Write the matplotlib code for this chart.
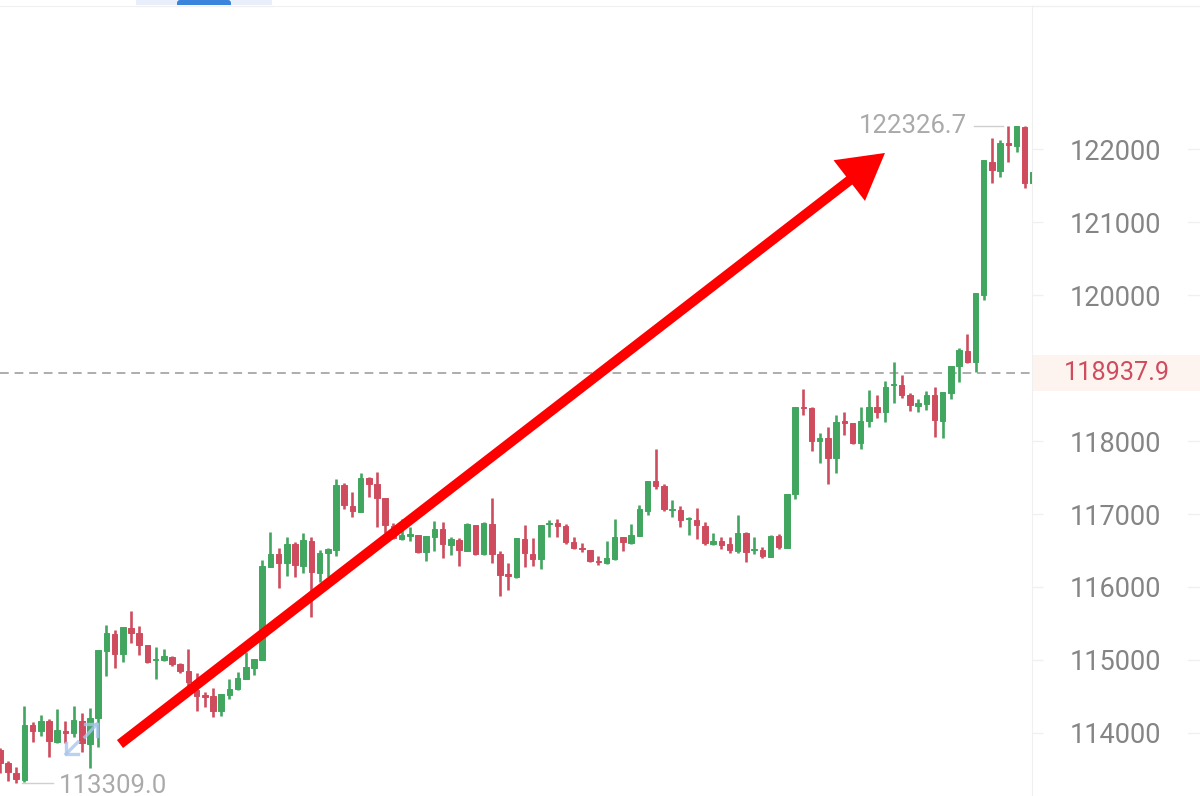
import matplotlib
matplotlib.use("Agg")
from matplotlib import pyplot as plt
from matplotlib.patches import Rectangle, FancyBboxPatch

plt.rcParams['font.family'] = ['Roboto', 'DejaVu Sans']

################################
### Values ###
################################

opens = [113763,113585,113447,113352,114106,114024,114161,113873,114024,113996,
         114161,113845,114202,115121,115354,115080,115436,115368,115203,114998,
         114998,115039,114943,114847,114586,114518,114504,114298,114518,114600,
         114737,114888,114998,116273,116452,116328,116589,116287,116630,116191,
         116465,116507,117398,117110,117028,117494,117412,117220,116836,116658,
         116699,116712,116479,116685,116795,116575,116644,116493,116850,116452,
         116863,116452,116178,116136,116658,116452,116383,116863,116877,116836,
         116616,116534,116507,116356,116328,116383,116685,116603,116699,117042,
         117453,117384,117055,117055,116932,116918,116836,116589,116630,116589,
         116493,116740,116507,116507,116411,116699,116534,117275,118468,118455,
         118002,118043,117769,118276,118249,117974,118276,118468,118400,118770,
         118770,118633,118482,118509,118633,118276,118660,119031,119236,119085,
         120004,121829,121705,122090,122048,122309,121541]

closes = [113585,113461,113365,114106,114024,114161,113887,114038,113996,114175,
          113859,114202,115135,115368,115080,115450,115368,115203,114970,115011,
          115052,114943,114847,114696,114504,114490,114298,114531,114600,114751,
          114902,115011,116287,116452,116328,116589,116301,116644,116205,116465,
          116520,117398,117124,117042,117494,117412,117220,116850,116671,116712,
          116726,116479,116699,116795,116589,116658,116507,116863,116452,116877,
          116452,116164,116150,116671,116465,116383,116850,116877,116836,116616,
          116534,116520,116356,116342,116397,116685,116616,116712,117069,117453,
          117384,117069,117069,116918,116945,116850,116603,116630,116575,116507,
          116740,116479,116520,116424,116699,116548,117275,118468,118455,118002,
          118043,117769,118262,118249,117974,118276,118468,118400,118743,118784,
          118633,118496,118523,118633,118290,118674,119031,119250,119085,120032,
          121856,121719,122090,122062,122323,121541,121692]

highs = [113790,113612,113530,114367,114147,114243,114188,114326,114161,114367,
         114270,114339,115135,115478,115409,115450,115670,115464,115203,115176,
         115149,115052,114957,115149,114820,114559,114614,114531,114737,114833,
         115107,115011,116369,116754,116534,116685,116616,116740,116685,116507,
         116534,117480,117425,117302,117563,117508,117576,117220,116877,116932,
         116822,116712,116699,116904,116891,116685,116671,116877,116850,116891,
         117220,116493,116328,116671,116850,116671,116850,116918,116932,116863,
         116685,116603,116507,116424,116630,116932,116685,116863,117124,117453,
         117892,117412,117192,117110,116959,117083,116891,116740,116685,116685,
         116987,116754,116685,116548,116712,116726,117275,118468,118715,118468,
         118112,118194,118358,118400,118249,118468,118701,118633,118825,119085,
         118907,118660,118578,118688,118743,118674,119031,119277,119469,120032,
         121856,122158,122131,122326.7,122326.7,122323,121692]

lows = [113447,113338,113309,113324,113873,113955,113667,113859,113859,113941,
        113735,113516,113804,114778,114888,114970,115231,115066,114957,114737,
        114984,114915,114820,114627,114298,114353,114216,114229,114463,114586,
        114737,114792,114998,116273,115985,116150,116136,116191,115587,116068,
        116136,116424,117069,116959,117028,117234,116822,116740,116658,116644,
        116630,116465,116356,116493,116397,116438,116287,116493,116438,116438,
        116328,115876,115958,116122,116273,116287,116246,116685,116685,116589,
        116520,116479,116342,116301,116315,116369,116493,116589,116699,116987,
        117343,117042,116959,116822,116712,116658,116575,116575,116520,116465,
        116465,116342,116452,116397,116411,116520,116534,117206,118358,117865,
        117700,117412,117563,118084,117961,117892,118194,118317,118262,118523,
        118592,118413,118400,118427,118057,118043,118578,118811,119072,118948,
        119936,121541,121623,121829,121966,121472,121541]

y_ticks = [114000, 115000, 116000, 117000, 118000, 120000, 121000, 122000]
y_labels = [str(t) for t in y_ticks]

last_price = 118937.9
max_price = 122326.7
min_price = 113309.0

green = '#41a660'
red = '#cf4c5e'
line_gray = '#f0f0f0'

fig = plt.figure(figsize=(12, 7.96), dpi=100)
ax = fig.add_axes([0, 0, 1032 / 1200, 790 / 796])
ax.set_xlim(0.024, 125.88)
ax.set_ylim(113132, 123968)

##################
### Candlesticks ###
##################

for i in range(len(opens)):
    c = green if closes[i] >= opens[i] else red
    ax.vlines(i, lows[i], highs[i], colors=c, linewidth=1.9, zorder=3)
    ax.bar(i, abs(closes[i] - opens[i]), bottom=min(opens[i], closes[i]),
           width=0.66, color=c, edgecolor=c, linewidth=0.7, zorder=3)

ax.axhline(last_price, color='#adadad', linewidth=1.4, linestyle=(0, (4.5, 3)), zorder=2)

# high / low markers
ax.plot([118.8, 122.3], [max_price, max_price], color='#cfcfcf', linewidth=1, zorder=2)
ax.text(118.0, max_price, '122326.7', color='#aaaaaa', fontsize=18.5,
        ha='right', va='center')
ax.plot([2.7, 6.5], [min_price, min_price], color='#cfcfcf', linewidth=1, zorder=2)
ax.text(7.2, min_price - 40, '113309.0', color='#aaaaaa', fontsize=18.5,
        ha='left', va='center', clip_on=False)

# y axis on the right side
ax.yaxis.tick_right()
ax.set_yticks(y_ticks)
ax.set_yticklabels(y_labels, ha='center', va='center_baseline', color='#858585', fontsize=19.5)
ax.tick_params(axis='y', length=8, width=1, color=line_gray, pad=52)
ax.set_xticks([])
for s in ['left', 'bottom']:
    ax.spines[s].set_visible(False)
ax.spines['right'].set_color(line_gray)
ax.spines['top'].set_color(line_gray)
for t in y_ticks:
    ax.plot([1188 / 1032, 1200 / 1032], [t, t], color=line_gray, linewidth=1,
            transform=ax.get_yaxis_transform(), clip_on=False)

# current price tag
ax.add_patch(Rectangle((1033 / 1032, last_price - 245), 167 / 1032, 490, facecolor='#fdf4f0',
                       edgecolor='none', transform=ax.get_yaxis_transform(), clip_on=False))
ax.text(1117 / 1032, last_price, '118937.9', color='#cf4c5e', fontsize=18.2,
        ha='center', va='center', transform=ax.get_yaxis_transform(), clip_on=False)

# red arrow drawn over the chart
ax.annotate('', xy=(107.95, 121952), xytext=(14.66, 113845), zorder=6,
            arrowprops=dict(facecolor='#fe0000', edgecolor='none', width=7.2,
                            headwidth=37, headlength=32.5, shrink=0))

###########################
### Page bits around it ###
###########################

over = fig.add_axes([0, 0, 1, 1], facecolor='none')
over.set_xlim(0, 1200)
over.set_ylim(796, 0)
over.axis('off')

over.plot([1032, 1200], [5.5, 5.5], color=line_gray, linewidth=1)
over.add_patch(Rectangle((136, 0), 136, 5, facecolor='#e8effb', edgecolor='none'))
over.add_patch(FancyBboxPatch((177, 0), 54, 8, boxstyle='round,pad=0,rounding_size=3',
                              facecolor='#3a84dc', edgecolor='none', clip_on=True))
over.add_patch(Rectangle((136, 5), 136, 4, facecolor='white', edgecolor='none'))
over.plot([136, 272], [5.5, 5.5], color=line_gray, linewidth=1)

# faint expand icon
icon = '#a9c6ee'
over.plot([78, 66], [742, 754], color=icon, linewidth=2.4, alpha=0.8)
over.plot([66, 66, 78], [743, 754, 754], color=icon, linewidth=2.4, alpha=0.8)
over.plot([85, 97], [737, 724], color=icon, linewidth=2.4, alpha=0.8)
over.plot([85, 97, 97], [724, 724, 736], color=icon, linewidth=2.4, alpha=0.8)

plt.savefig('out.png', dpi=100)
